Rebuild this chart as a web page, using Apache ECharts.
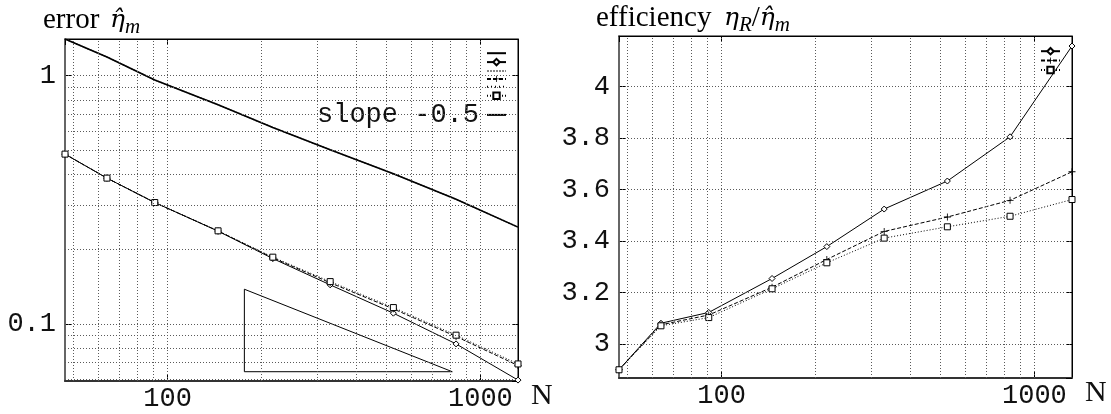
<!DOCTYPE html>
<html><head><meta charset="utf-8">
<script src="https://cdn.jsdelivr.net/npm/echarts@6/dist/echarts.min.js"></script>
<style>html,body{margin:0;padding:0;background:#fff}#c{width:1111px;height:414px}</style>
</head><body><div id="c"></div><script>
// ---- data ----
const N = [47, 64, 91, 145, 217, 331, 527, 836, 1319];
// left panel: error
const errUpper   = [1.406, 1.19, 0.961, 0.764, 0.619, 0.503, 0.403, 0.318, 0.2455];
const errDiamond = [0.4833, 0.3868, 0.3084, 0.2365, 0.1834, 0.1437, 0.1105, 0.0831, 0.0594];
const errPlus    = [0.4833, 0.3868, 0.3084, 0.2370, 0.1848, 0.1465, 0.1150, 0.0890, 0.0680];
const errSquare  = [0.4833, 0.3868, 0.3084, 0.2372, 0.1858, 0.1481, 0.1164, 0.0901, 0.0690];
const slopeN     = [176, 176, 813, 176];
const slopeErr   = [0.138, 0.0642, 0.0642, 0.138];
// right panel: efficiency
const effDiamond = [2.899, 3.080, 3.122, 3.254, 3.378, 3.524, 3.633, 3.805, 4.158];
const effPlus    = [2.899, 3.074, 3.112, 3.220, 3.328, 3.437, 3.493, 3.558, 3.669];
const effSquare  = [2.899, 3.070, 3.102, 3.214, 3.315, 3.411, 3.455, 3.496, 3.561];
// axes
const xTickLabels = ['100', '1000'];
const yTickLabelsLeft = ['0.1', '1'];
const yTickLabelsRight = ['3', '3.2', '3.4', '3.6', '3.8', '4'];
const xGrid = [50, 60, 70, 80, 90, 100, 200, 300, 400, 500, 600, 700, 800, 900, 1000];
const yGridLeft = [0.06, 0.07, 0.08, 0.09, 0.1, 0.2, 0.3, 0.4, 0.5, 0.6, 0.7, 0.8, 0.9, 1];
const yGridRight = [3, 3.2, 3.4, 3.6, 3.8, 4];
const leftLegendLabels = {s1: '', s2: '', s3: '', s4: '', s5: '', s6: '', s7: 'slope -0.5'};
const rightLegendLabels = {r1: '', r2: '', r3: ''};

// ---- styling helpers ----
const MONO = 'Liberation Mono';
const SERIF = 'Liberation Serif';
const plusPath = 'path://M4.4,0H5.6V4.4H10V5.6H5.6V10H4.4V5.6H0V4.4H4.4Z';
function pairs(xs, ys) { return xs.map((x, i) => [x, ys[i]]); }
function labelFmt(list) {
  return function (v) {
    for (const s of list) { if (Math.abs(parseFloat(s) - v) < 1e-6 * Math.max(1, Math.abs(v))) return s; }
    return '';
  };
}
function mkSeries(name, xi, yi, data, lineStyle, sym, z) {
  const s = {
    name, type: 'line', xAxisIndex: xi, yAxisIndex: yi, data,
    lineStyle: Object.assign({color: '#000', width: 1}, lineStyle),
    itemStyle: {color: 'transparent', borderColor: 'transparent', borderWidth: 0},
    symbol: 'circle', showSymbol: false, z: z || 3, silent: true,
    emphasis: {disabled: true}, animation: false
  };
  if (sym) {
    s.symbol = sym.symbol; s.symbolSize = sym.size; s.showSymbol = true;
    s.itemStyle = sym.fill ? {color: '#000', borderWidth: 0} : {color: '#fff', borderColor: '#000', borderWidth: 1};
  }
  return s;
}
function gridSeries(xi, yi, xs, ys) {
  return {
    type: 'line', xAxisIndex: xi, yAxisIndex: yi, data: [], silent: true, z: 1, animation: false,
    markLine: {
      silent: true, symbol: ['none', 'none'], animation: false,
      label: {show: false}, emphasis: {disabled: true},
      lineStyle: {color: '#5a5a5a', type: [1, 2], width: 1},
      data: xs.map(v => ({xAxis: v})).concat(ys.map(v => ({yAxis: v})))
    }
  };
}
function xAx(gi, pos, min, max, labels, withName) {
  const a = {
    type: 'log', gridIndex: gi, position: pos, min, max, logBase: 10,
    axisLine: {show: true, lineStyle: {color: pos === 'bottom' ? '#333' : '#000', width: pos === 'bottom' ? 2 : 1}},
    axisTick: {show: true, inside: true, length: 6, lineStyle: {color: '#000'}},
    splitLine: {show: false},
    axisLabel: {show: pos === 'bottom', fontFamily: MONO, fontSize: 27, color: '#111', margin: 4,
      formatter: labelFmt(labels), showMinLabel: false, showMaxLabel: false}
  };
  if (withName) {
    a.name = 'N'; a.nameLocation = 'end'; a.nameGap = 13;
    a.nameTextStyle = {fontFamily: SERIF, fontSize: 30, color: '#111', verticalAlign: 'top', lineHeight: 30};
  }
  return a;
}
function yAx(gi, pos, type, min, max, labels) {
  const a = {
    type, gridIndex: gi, position: pos, min, max,
    axisLine: {show: true, lineStyle: {color: pos === 'left' ? '#666' : '#000', width: pos === 'left' ? 2 : 1}},
    axisTick: {show: true, inside: true, length: 6, lineStyle: {color: '#000'}},
    splitLine: {show: false},
    axisLabel: {show: pos === 'left', fontFamily: MONO, fontSize: 27, color: '#111', margin: 9,
      formatter: labelFmt(labels), showMinLabel: false, showMaxLabel: false}
  };
  if (type === 'value') { a.splitNumber = 7; a.axisLabel.interval = 0; }
  return a;
}

const richMath = {
  b: {fontFamily: 'DejaVu Serif', fontSize: 25, fontStyle: 'italic', color: '#000', lineHeight: 36, verticalAlign: 'middle'},
  a: {fontFamily: SERIF, fontSize: 29, color: '#000', lineHeight: 36, verticalAlign: 'middle'},
  c: {fontFamily: SERIF, fontSize: 21, fontStyle: 'italic', color: '#000', lineHeight: 21, verticalAlign: 'bottom'}
};
const wordStyle = {fontFamily: SERIF, fontSize: 29, fill: '#000', align: 'left', verticalAlign: 'middle'};

const chart = echarts.init(document.getElementById('c'), null, {renderer: 'canvas'});
chart.setOption({
  animation: false,
  backgroundColor: '#fff',
  graphic: [
    {type: 'text', x: 43, y: 20, silent: true, style: Object.assign({text: 'error'}, wordStyle)},
    {type: 'text', x: 110, y: 20, silent: true, style: {text: '{b|η̂}{c|m}', rich: richMath, align: 'left', verticalAlign: 'middle'}},
    {type: 'text', x: 596, y: 18, silent: true, style: Object.assign({text: 'efficiency'}, wordStyle)},
    {type: 'text', x: 724, y: 18, silent: true, style: {text: '{b|η}{c|R}{a|/}{b|η̂}{c|m}', rich: richMath, align: 'left', verticalAlign: 'middle'}}
  ],
  grid: [
    {left: 65, top: 39, width: 453, height: 342, show: true, borderColor: '#000', borderWidth: 1, backgroundColor: 'transparent'},
    {left: 619, top: 36, width: 453, height: 342, show: true, borderColor: '#000', borderWidth: 1, backgroundColor: 'transparent'}
  ],
  xAxis: [
    xAx(0, 'bottom', N[0], N[N.length - 1], xTickLabels, true),
    xAx(0, 'top', N[0], N[N.length - 1], xTickLabels, false),
    xAx(1, 'bottom', N[0], N[N.length - 1], xTickLabels, true),
    xAx(1, 'top', N[0], N[N.length - 1], xTickLabels, false)
  ],
  yAxis: [
    yAx(0, 'left', 'log', 0.0589, 1.406, yTickLabelsLeft),
    yAx(0, 'right', 'log', 0.0589, 1.406, yTickLabelsLeft),
    yAx(1, 'left', 'value', 2.867, 4.197, yTickLabelsRight),
    yAx(1, 'right', 'value', 2.867, 4.197, yTickLabelsRight)
  ],
  legend: [
    {
      data: ['s1', 's2', 's3', 's4', 's5', 's6', 's7'], orient: 'vertical', right: 604, top: 50,
      itemWidth: 19, itemHeight: 8, itemGap: 1.5, align: 'right', selectedMode: false, padding: 0,
      formatter: n => leftLegendLabels[n],
      textStyle: {fontFamily: MONO, fontSize: 27, lineHeight: 8, color: '#111', padding: [0, 3, 0, 0]}
    },
    {
      data: ['r1', 'r2', 'r3'], orient: 'vertical', right: 50, top: 47,
      itemWidth: 19, itemHeight: 8, itemGap: 2, align: 'right', selectedMode: false, padding: 0,
      formatter: n => rightLegendLabels[n],
      textStyle: {fontFamily: MONO, fontSize: 27, lineHeight: 8, color: '#111'}
    }
  ],
  series: [
    gridSeries(0, 0, xGrid, yGridLeft),
    gridSeries(2, 2, xGrid, yGridRight),
    // left panel
    mkSeries('s3', 0, 0, pairs(N, errUpper), {color: '#888', width: 1.5, type: [2, 1]}, null, 2),
    mkSeries('s5', 0, 0, pairs(N, errUpper), {color: '#000', width: 1, type: [1, 3]}, null, 2),
    mkSeries('s1', 0, 0, pairs(N, errUpper), {color: '#000', width: 1.5}, null, 4),
    mkSeries('s2', 0, 0, pairs(N, errDiamond), {color: '#000', width: 1}, {symbol: 'diamond', size: 6}),
    mkSeries('s4', 0, 0, pairs(N, errPlus), {color: '#000', width: 1, type: [4, 2]}, {symbol: plusPath, size: 7, fill: true}),
    mkSeries('s6', 0, 0, pairs(N, errSquare), {color: '#000', width: 1, type: [1, 2]}, {symbol: 'rect', size: 6}),
    mkSeries('s7', 0, 0, pairs(slopeN, slopeErr), {color: '#000', width: 1}, null),
    // right panel
    mkSeries('r1', 2, 2, pairs(N, effDiamond), {color: '#000', width: 1}, {symbol: 'diamond', size: 6}),
    mkSeries('r2', 2, 2, pairs(N, effPlus), {color: '#000', width: 1, type: [4, 2]}, {symbol: plusPath, size: 7, fill: true}),
    mkSeries('r3', 2, 2, pairs(N, effSquare), {color: '#000', width: 1, type: [1, 2]}, {symbol: 'rect', size: 6})
  ]
});
</script></body></html>
